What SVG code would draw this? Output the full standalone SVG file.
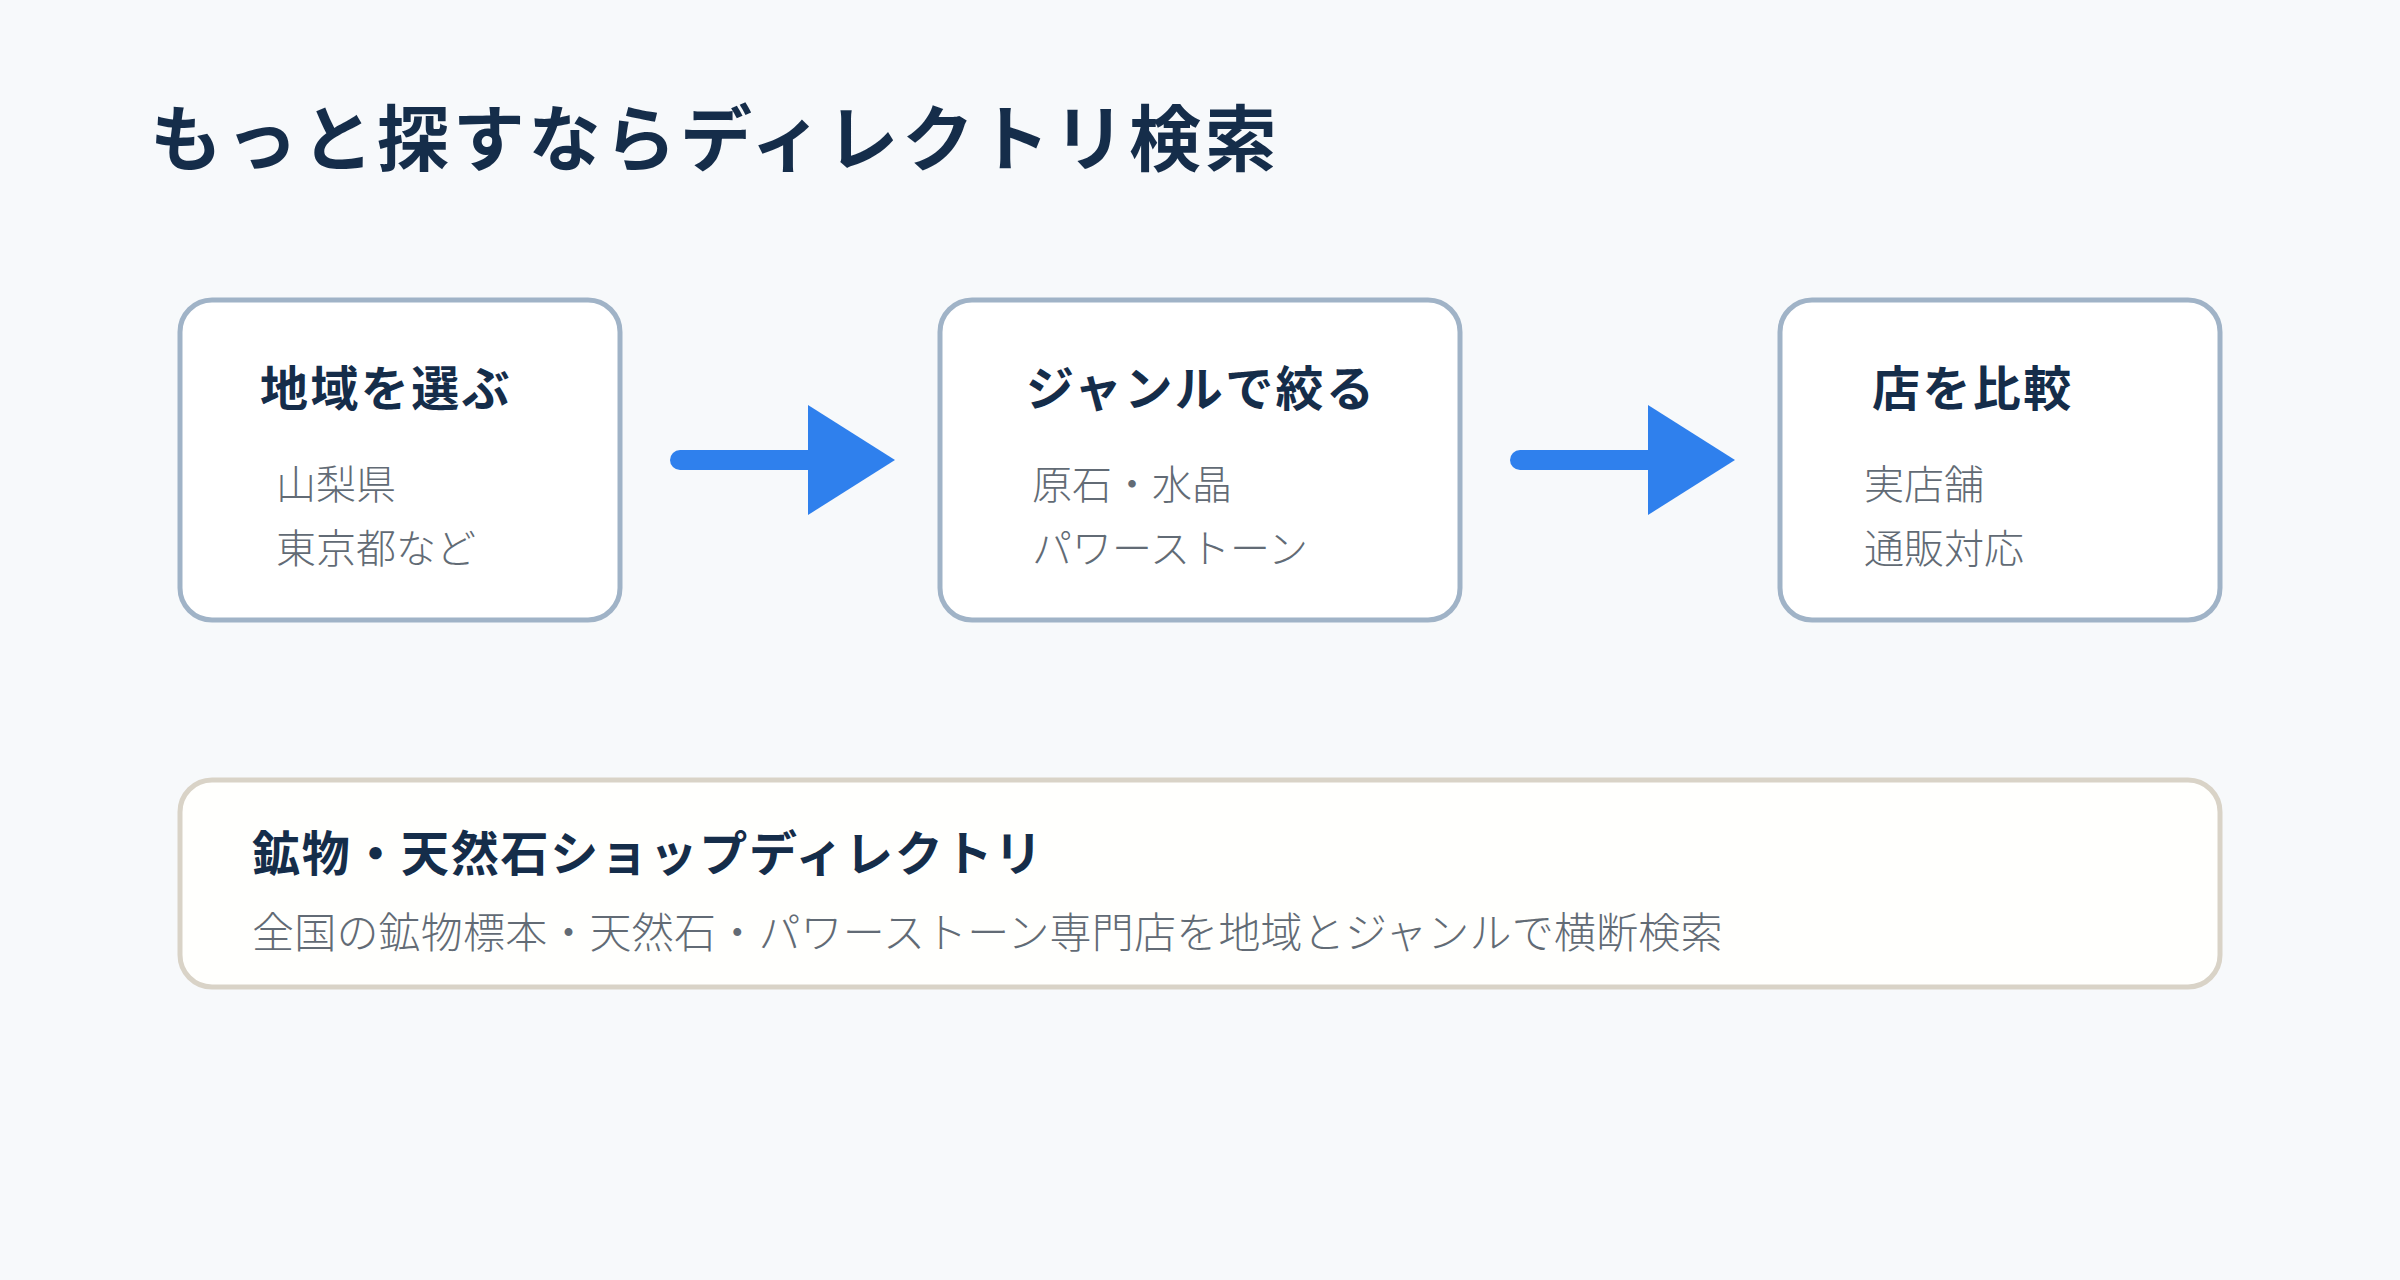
<svg xmlns="http://www.w3.org/2000/svg" width="2400" height="1280" viewBox="0 0 2400 1280">
  <style>
    .bg { fill: #f7f9fb; }
    .step { fill: #ffffff; stroke: #a0b3c7; stroke-width: 5; }
    .info { fill: #fffffd; stroke: #d9d3c7; stroke-width: 5; }
    .h1 { font-family: "Noto Sans CJK JP", "Noto Sans", sans-serif; font-weight: 700; font-size: 72px; letter-spacing: 3.7px; fill: #152d4a; }
    .h2 { font-family: "Noto Sans CJK JP", "Noto Sans", sans-serif; font-weight: 700; font-size: 48px; letter-spacing: 2.4px; fill: #152d4a; }
    .h3 { font-family: "Noto Sans CJK JP", "Noto Sans", sans-serif; font-weight: 700; font-size: 48px; letter-spacing: 1.7px; fill: #152d4a; }
    .sub { font-family: "Noto Sans CJK JP", "Noto Sans", sans-serif; font-weight: 300; font-size: 40px; fill: #626b75; }
    .sub2 { font-family: "Noto Sans CJK JP", "Noto Sans", sans-serif; font-weight: 300; font-size: 42px; letter-spacing: 0.2px; fill: #626b75; }
    .shaft { stroke: #2f80ed; stroke-width: 20; stroke-linecap: round; fill: none; }
    .head { fill: #2f80ed; }
  </style>
  <rect class="bg" x="0" y="0" width="2400" height="1280"/>

  <text id="title" class="h1" x="150" y="165">もっと探すならディレクトリ検索</text>

  <g id="node-region">
    <rect class="step" x="180" y="300" width="440" height="320" rx="32"/>
    <text class="h2" x="260" y="406">地域を選ぶ</text>
    <text class="sub" x="276" y="499">山梨県</text>
    <text class="sub" x="276" y="563">東京都など</text>
  </g>

  <g id="node-genre">
    <rect class="step" x="940" y="300" width="520" height="320" rx="32"/>
    <text class="h2" x="1026" y="406">ジャンルで絞る</text>
    <text class="sub" x="1032" y="499">原石・水晶</text>
    <text class="sub" x="1032" y="563">パワーストーン</text>
  </g>

  <g id="node-compare">
    <rect class="step" x="1780" y="300" width="440" height="320" rx="32"/>
    <text class="h2" x="1872" y="406">店を比較</text>
    <text class="sub" x="1864" y="499">実店舗</text>
    <text class="sub" x="1864" y="563">通販対応</text>
  </g>

  <g id="connectors">
    <line class="shaft" x1="680" y1="460" x2="812" y2="460"/>
    <polygon class="head" points="808,405 895,460 808,515"/>
    <line class="shaft" x1="1520" y1="460" x2="1652" y2="460"/>
    <polygon class="head" points="1648,405 1735,460 1648,515"/>
  </g>

  <g id="node-directory">
    <rect class="info" x="180" y="780" width="2040" height="207" rx="32"/>
    <text class="h3" x="252" y="871">鉱物・天然石ショップディレクトリ</text>
    <text class="sub2" x="252" y="948">全国の鉱物標本・天然石・パワーストーン専門店を地域とジャンルで横断検索</text>
  </g>
</svg>
